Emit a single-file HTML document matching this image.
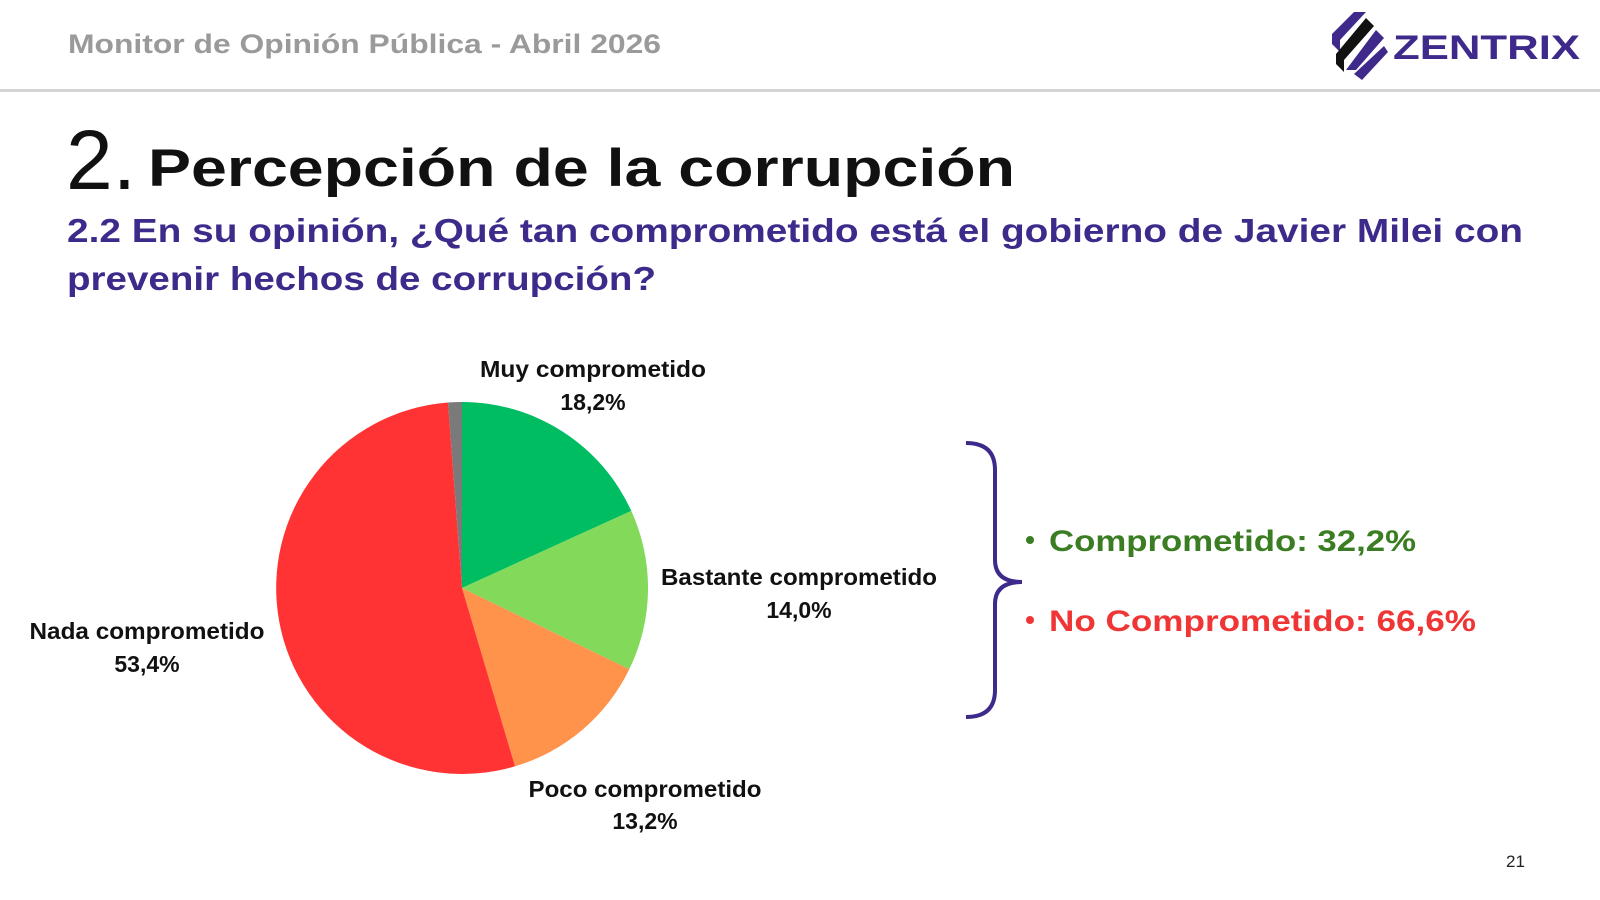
<!DOCTYPE html>
<html><head><meta charset="utf-8"><style>
html,body{margin:0;padding:0;background:#fff;}
svg{display:block;}
text{font-family:"Liberation Sans",sans-serif;}
</style></head><body>
<svg width="1600" height="900" viewBox="0 0 1600 900" xmlns="http://www.w3.org/2000/svg">
<rect width="1600" height="900" fill="#fff"/>
<text x="68" y="53" font-size="27" font-weight="bold" fill="#9a9a9a" textLength="593" lengthAdjust="spacingAndGlyphs">Monitor de Opinión Pública - Abril 2026</text>
<g transform="translate(1332,12)">
<path d="M22 0 L34 0 L8 28 L8 40 L0 32 L0 22 Z" fill="#3f2a8c"/>
<path d="M34 6 L42 14 L12 48 L12 60 L4 52 L4 42 Z" fill="#111"/>
<path d="M44 18 L52 26 L24 58 L14 58 Z" fill="#3f2a8c"/>
<path d="M52 34 L56 40 L30 68 L22 62 Z" fill="#3f2a8c"/>
</g>
<text x="1393" y="59" font-size="34" font-weight="bold" fill="#3f2a8c" textLength="187" lengthAdjust="spacingAndGlyphs">ZENTRIX</text>
<rect x="0" y="89" width="1600" height="3" fill="#d4d4d4"/>
<text x="66" y="189" font-size="84" fill="#111">2.</text>
<text x="148" y="186" font-size="53" font-weight="bold" fill="#111" textLength="867" lengthAdjust="spacingAndGlyphs">Percepción de la corrupción</text>
<text x="67" y="242" font-size="33" font-weight="bold" fill="#3d2a8a" textLength="1456" lengthAdjust="spacingAndGlyphs">2.2 En su opinión, ¿Qué tan comprometido está el gobierno de Javier Milei con</text>
<text x="67" y="290" font-size="33" font-weight="bold" fill="#3d2a8a" textLength="589" lengthAdjust="spacingAndGlyphs">prevenir hechos de corrupción?</text>
<g>
<path d="M462 588 L462 402 A186 186 0 0 1 631.3 510.9 Z" fill="#00bd62"/>
<path d="M462 588 L631.3 510.9 A186 186 0 0 1 629.3 669.3 Z" fill="#82d95a"/>
<path d="M462 588 L629.3 669.3 A186 186 0 0 1 515 766.3 Z" fill="#ff934c"/>
<path d="M462 588 L515 766.3 A186 186 0 1 1 448 402.5 Z" fill="#ff3333"/>
<path d="M462 588 L448 402.5 A186 186 0 0 1 462 402 Z" fill="#7a7a7a"/>
</g>
<g font-size="23" font-weight="bold" fill="#111" text-anchor="middle">
<text x="593" y="377" textLength="226" lengthAdjust="spacingAndGlyphs">Muy comprometido</text><text x="593" y="410">18,2%</text>
<text x="799" y="585" textLength="276" lengthAdjust="spacingAndGlyphs">Bastante comprometido</text><text x="799" y="618">14,0%</text>
<text x="645" y="797" textLength="233" lengthAdjust="spacingAndGlyphs">Poco comprometido</text><text x="645" y="829">13,2%</text>
<text x="147" y="639" textLength="235" lengthAdjust="spacingAndGlyphs">Nada comprometido</text><text x="147" y="672">53,4%</text>
</g>
<path d="M966 443 Q995 443 995 470 L995 560 Q995 582 1022 582 Q995 582 995 604 L995 690 Q995 717 966 717" fill="none" stroke="#3d2a8a" stroke-width="4"/>
<circle cx="1030" cy="540" r="4" fill="#3a7d22"/>
<text x="1049" y="551" font-size="30" font-weight="bold" fill="#3a7d22" textLength="367" lengthAdjust="spacingAndGlyphs">Comprometido: 32,2%</text>
<circle cx="1030" cy="620" r="4" fill="#f03535"/>
<text x="1049" y="631" font-size="30" font-weight="bold" fill="#f03535" textLength="427" lengthAdjust="spacingAndGlyphs">No Comprometido: 66,6%</text>
<text x="1506" y="867" font-size="17" fill="#222">21</text>
</svg>
</body></html>
